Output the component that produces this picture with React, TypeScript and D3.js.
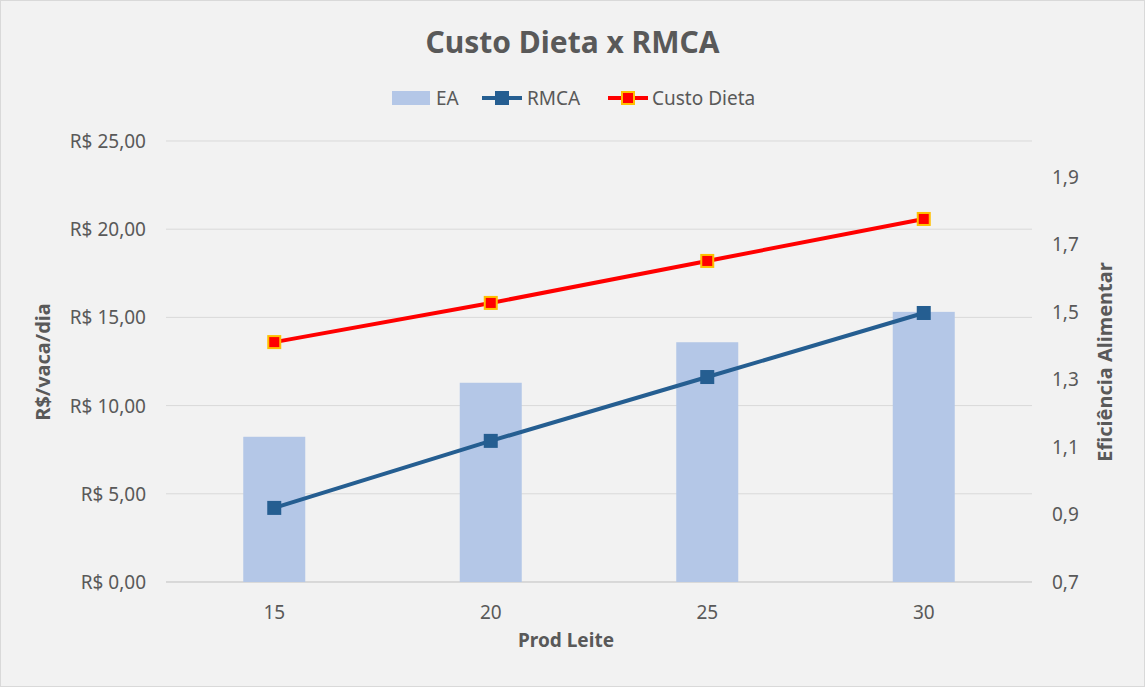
import React from 'react'
import * as d3 from 'd3'

const categories = ['15', '20', '25', '30']
const custoDieta = [13.6, 15.82, 18.2, 20.58]
const rmca = [4.2, 8.0, 11.62, 15.25]
const ea = [1.13, 1.29, 1.41, 1.5]
const leftTicks = [0, 5, 10, 15, 20, 25]
const rightTicks = [0.7, 0.9, 1.1, 1.3, 1.5, 1.7, 1.9]

const W = 1145
const H = 687
const font = '"Noto Sans", "Open Sans", sans-serif'
const grey = '#595959'

export default function App() {
  const x = d3.scaleBand().domain(categories).range([166, 1032])
  const yL = d3.scaleLinear().domain([0, 25]).range([582, 141])
  const yR = d3.scaleLinear().domain([0.7, 2.0]).range([582, 143])
  const cx = (c: string) => (x(c) as number) + x.bandwidth() / 2
  const line = d3.line<number>().x((_, i) => cx(categories[i])).y(d => yL(d))
  const fmt = (v: number) => 'R$ ' + v.toFixed(2).replace('.', ',')

  return (
    <svg width={W} height={H} style={{ position: 'absolute', left: 0, top: 0 }} fontFamily={font}>
      <rect x={0.5} y={0.5} width={W - 1} height={H - 1} fill="#f2f2f2" stroke="#d9d9d9" />
      <text x={W / 2} y={53} textAnchor="middle" fontSize={30} fontWeight="bold" fill={grey}>Custo Dieta x RMCA</text>

      {leftTicks.map(t => (
        <g key={t}>
          <line x1={166} x2={1032} y1={yL(t)} y2={yL(t)} stroke={t === 0 ? '#bfbfbf' : '#d9d9d9'} />
          <text x={146} y={yL(t) + 7} textAnchor="end" fontSize={19} fill={grey}>{fmt(t)}</text>
        </g>
      ))}
      {rightTicks.map(t => (
        <text key={t} x={1052} y={yR(t) + 7} fontSize={19} fill={grey}>{t.toFixed(1).replace('.', ',')}</text>
      ))}
      {categories.map(c => (
        <text key={c} x={cx(c)} y={619} textAnchor="middle" fontSize={19} fill={grey}>{c}</text>
      ))}

      {ea.map((v, i) => (
        <rect key={i} x={cx(categories[i]) - 31} width={62} y={yR(v)} height={582 - yR(v)} fill="#b4c7e7" />
      ))}

      <path d={line(rmca) as string} fill="none" stroke="#255e91" strokeWidth={4} />
      {rmca.map((v, i) => (
        <rect key={i} x={cx(categories[i]) - 7} y={yL(v) - 7} width={14} height={14} fill="#255e91" />
      ))}
      <path d={line(custoDieta) as string} fill="none" stroke="#ff0000" strokeWidth={4} />
      {custoDieta.map((v, i) => (
        <rect key={i} x={cx(categories[i]) - 6} y={yL(v) - 6} width={12} height={12} fill="#ff0000" stroke="#ffc000" strokeWidth={2} />
      ))}

      <text x={566} y={647} textAnchor="middle" fontSize={19} fontWeight="bold" fill={grey}>Prod Leite</text>
      <text transform="translate(50,362) rotate(-90)" textAnchor="middle" fontSize={20} fontWeight="bold" fill={grey}>R$/vaca/dia</text>
      <text transform="translate(1112,362) rotate(-90)" textAnchor="middle" fontSize={20} fontWeight="bold" fill={grey}>Eficiência Alimentar</text>

      <g fontSize={19} fill={grey}>
        <rect x={392} y={91} width={38} height={14} fill="#b4c7e7" />
        <text x={436} y={105}>EA</text>
        <line x1={482} x2={522} y1={98} y2={98} stroke="#255e91" strokeWidth={4} />
        <rect x={495} y={91} width={14} height={14} fill="#255e91" />
        <text x={527} y={105}>RMCA</text>
        <line x1={608} x2={648} y1={98} y2={98} stroke="#ff0000" strokeWidth={4} />
        <rect x={622} y={92} width={12} height={12} fill="#ff0000" stroke="#ffc000" strokeWidth={2} />
        <text x={652} y={105}>Custo Dieta</text>
      </g>
    </svg>
  )
}
